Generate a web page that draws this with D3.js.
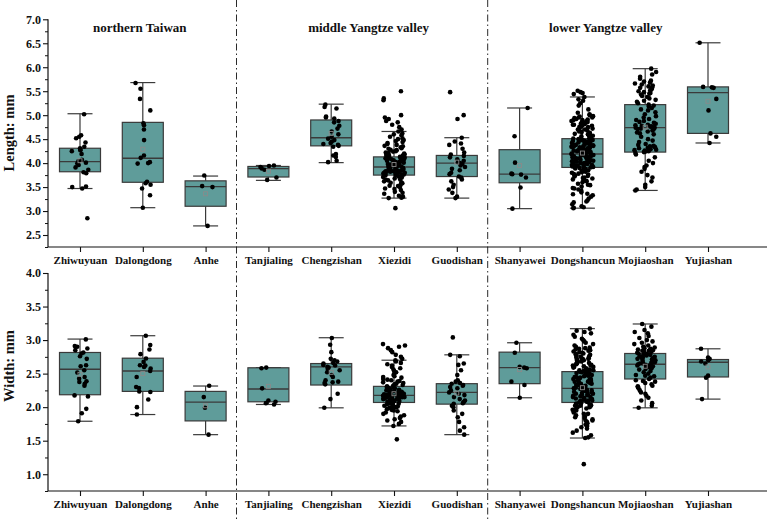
<!DOCTYPE html>
<html><head><meta charset="utf-8">
<script src="https://cdn.jsdelivr.net/npm/d3@7"></script>
<style>html,body{margin:0;padding:0;background:#fff;}svg{display:block;}</style>
</head><body>
<svg id="chart" width="767" height="519"></svg>
<script>
// ---------------- DATA ----------------
const categories = ["Zhiwuyuan","Dalongdong","Anhe","Tanjialing","Chengzishan","Xiezidi","Guodishan","Shanyawei","Dongshancun","Mojiaoshan","Yujiashan"];
const groupNames = ["northern Taiwan","middle Yangtze valley","lower Yangtze valley"];
const groupFirst = [0,3,7];
const groupLast  = [2,6,10];

// Length box statistics
const lenLow  = [3.47,3.07,2.69,3.64,4.01,3.27,3.27,3.05,3.06,3.43,4.42];
const lenQ1   = [3.82,3.60,3.10,3.71,4.36,3.75,3.72,3.59,3.91,4.23,4.62];
const lenMed  = [4.03,4.10,3.51,3.885,4.53,3.92,4.00,3.77,4.19,4.74,5.47];
const lenQ3   = [4.31,4.85,3.63,3.93,4.90,4.13,4.16,4.28,4.51,5.22,5.59];
const lenHigh = [5.03,5.68,3.73,3.95,5.23,4.66,4.53,5.15,5.38,5.97,6.51];
const lenMean = [4.05,4.29,3.36,3.83,4.62,3.97,4.02,3.95,4.21,4.75,5.29];

// Width box statistics
const widLow  = [1.79,1.89,1.59,2.04,1.99,1.72,1.59,2.14,1.54,1.99,2.12];
const widQ1   = [2.185,2.235,1.795,2.08,2.33,2.07,2.045,2.35,2.07,2.42,2.45];
const widMed  = [2.565,2.54,2.075,2.27,2.60,2.175,2.22,2.59,2.28,2.64,2.67];
const widQ3   = [2.815,2.73,2.235,2.587,2.65,2.31,2.35,2.82,2.53,2.80,2.71];
const widHigh = [3.015,3.065,2.315,2.59,3.035,2.70,2.78,2.96,3.17,3.24,2.87];
const widMean = [2.49,2.50,2.02,2.31,2.52,2.20,2.21,2.56,2.29,2.61,2.60];

// Length individual measurements (per category)
const lenPoints = [
  [5.02,4.58,4.55,4.52,4.43,4.34,4.31,4.28,4.27,4.25,4.19,4.07,4.04,4.01,3.99,3.96,3.91,3.86,3.81,3.79,3.51,3.50,3.47,2.85],
  [5.67,5.55,5.34,5.10,4.83,4.79,4.70,4.48,4.16,4.11,4.02,4.00,3.99,3.61,3.58,3.55,3.47,3.33,3.07],
  [3.74,3.52,3.50,2.69],
  [3.95,3.94,3.92,3.89,3.86,3.70,3.65],
  [5.22,5.17,5.14,4.97,4.95,4.93,4.88,4.85,4.78,4.72,4.66,4.60,4.55,4.51,4.48,4.45,4.42,4.40,4.38,4.36,4.34,4.19,4.16,4.13,4.05,4.02],
  [5.50,5.35,5.31,5.00,4.95,4.92,4.88,4.85,4.80,4.75,4.70,
   4.66,4.62,4.60,4.58,4.55,4.52,4.50,4.48,4.46,4.44,4.42,4.40,4.38,4.36,4.35,4.33,4.31,4.30,4.28,4.27,4.25,4.24,4.22,4.21,4.20,4.18,4.17,4.16,4.15,4.14,
   4.13,4.12,4.11,4.10,4.09,4.08,4.07,4.06,4.05,4.04,4.03,4.02,4.01,4.00,3.99,3.98,3.97,3.96,3.95,3.94,3.93,3.92,4.10,4.05,4.00,3.98,3.95,3.93,
   3.91,3.90,3.89,3.88,3.87,3.86,3.85,3.84,3.83,3.82,3.81,3.80,3.79,3.78,3.77,3.76,3.75,3.90,3.88,3.85,3.83,3.80,3.78,3.76,3.86,3.82,
   3.74,3.72,3.70,3.68,3.66,3.64,3.62,3.60,3.58,3.55,3.52,3.50,3.47,3.44,3.40,3.36,3.32,3.28,3.27,3.71,3.65,3.59,3.53,3.46,3.38,3.30,3.06],
  [5.48,5.00,4.92,4.53,4.45,4.41,4.38,4.30,4.22,4.18,4.15,4.12,4.08,4.05,4.02,4.00,3.98,3.95,3.92,3.88,3.85,3.80,3.77,3.72,3.70,3.66,3.62,3.55,3.50,3.45,3.38,3.30,3.27],
  [5.15,4.56,4.01,3.78,3.77,3.76,3.70,3.49,3.05],
  [5.51,5.48,5.46,5.44,
   5.38,5.33,5.30,5.25,5.20,5.12,5.05,5.02,5.00,4.98,4.97,4.95,4.94,4.92,4.91,4.90,4.88,4.87,4.86,4.85,4.84,4.82,4.81,4.80,4.78,4.77,4.76,4.75,4.73,4.72,4.70,4.68,4.66,4.65,4.63,4.61,4.60,4.58,4.56,4.55,4.53,4.52,4.95,4.90,4.85,4.80,4.70,4.62,4.57,
   4.51,4.50,4.49,4.48,4.47,4.46,4.45,4.44,4.43,4.42,4.41,4.40,4.39,4.38,4.37,4.36,4.35,4.34,4.33,4.32,4.31,4.30,4.29,4.28,4.27,4.26,4.25,4.24,4.23,4.22,4.21,4.20,4.19,4.48,4.45,4.42,4.38,4.35,4.31,4.28,4.25,4.22,4.20,4.46,4.40,4.33,4.27,4.23,
   4.18,4.17,4.16,4.15,4.14,4.13,4.12,4.11,4.10,4.09,4.08,4.07,4.06,4.05,4.04,4.03,4.02,4.01,4.00,3.99,3.98,3.97,3.96,3.95,3.94,3.93,3.92,3.91,4.16,4.12,4.08,4.04,4.00,3.96,3.93,4.14,4.06,3.98,4.10,4.02,3.94,
   3.90,3.88,3.86,3.84,3.82,3.80,3.78,3.76,3.74,3.72,3.70,3.68,3.66,3.64,3.62,3.60,3.57,3.54,3.51,3.48,3.45,3.42,3.39,3.36,3.33,3.30,3.26,3.22,3.18,3.14,3.10,3.07,3.06,3.89,3.85,3.81,3.77,3.73,3.69,3.63,3.55,3.47,3.35,3.20,3.08],
  [5.97,5.90,5.85,5.80,5.76,5.72,5.70,5.68,5.66,5.64,5.62,5.60,5.58,5.57,5.55,5.53,5.52,5.50,5.48,5.46,5.45,5.43,5.40,5.38,5.35,5.32,5.30,5.28,5.25,5.22,5.20,5.18,5.15,5.12,5.10,5.06,5.02,4.98,4.95,4.92,4.90,4.88,4.86,4.84,4.82,4.80,4.79,4.78,4.77,4.76,4.75,4.74,4.73,4.72,4.71,4.70,4.68,4.66,4.64,4.62,4.60,4.55,4.50,4.47,4.44,4.40,4.38,4.36,4.35,4.34,4.33,4.32,4.31,4.30,4.29,4.28,4.27,4.26,4.25,4.24,4.23,4.21,4.18,4.12,4.05,4.00,3.95,3.92,3.88,3.82,3.75,3.70,3.62,3.55,3.50,3.45,3.43],
  [6.51,5.59,5.58,5.57,5.34,5.10,4.62,4.55,4.42]
];

// Width individual measurements (per category)
const widPoints = [
  [3.01,2.91,2.90,2.875,2.85,2.815,2.80,2.76,2.72,2.625,2.61,2.55,2.515,2.45,2.425,2.385,2.375,2.35,2.32,2.175,2.16,1.975,1.91,1.79],
  [3.065,2.925,2.86,2.79,2.725,2.675,2.625,2.62,2.60,2.575,2.54,2.45,2.30,2.285,2.235,2.225,2.115,2.00,1.89],
  [2.32,2.15,1.99,1.59],
  [2.59,2.58,2.28,2.10,2.08,2.06,2.04],
  [3.03,2.93,2.82,2.72,2.70,2.68,2.66,2.65,2.63,2.62,2.60,2.59,2.57,2.55,2.52,2.48,2.45,2.40,2.38,2.37,2.36,2.34,2.20,2.12,1.99],
  [2.94,2.92,2.90,2.88,2.85,2.82,2.78,2.75,2.72,2.70,2.68,2.66,2.64,2.62,2.60,2.58,2.56,2.54,2.52,2.50,2.48,2.46,2.45,2.44,2.42,2.41,2.40,2.39,2.38,2.37,2.36,2.35,2.34,2.33,2.32,2.31,2.30,2.30,2.29,2.28,2.28,2.27,2.26,2.26,2.25,2.24,2.24,2.23,2.22,2.22,2.21,2.20,2.20,2.19,2.19,2.18,2.18,2.17,2.17,2.16,2.16,2.15,2.15,2.14,2.14,2.13,2.13,2.12,2.12,2.11,2.11,2.10,2.10,2.09,2.09,2.08,2.08,2.07,2.07,2.06,2.05,2.04,2.03,2.02,2.01,2.00,1.99,1.98,1.97,1.96,1.95,1.94,1.92,1.90,1.88,1.86,1.84,1.82,1.80,1.78,1.75,1.72,1.52,2.25,2.21,2.18,2.15,2.12,2.05,2.00],
  [3.04,2.78,2.76,2.65,2.63,2.55,2.48,2.40,2.38,2.36,2.35,2.33,2.32,2.30,2.28,2.25,2.22,2.20,2.18,2.15,2.12,2.10,2.08,2.06,2.05,2.02,2.00,1.95,1.90,1.85,1.78,1.70,1.65,1.59],
  [2.96,2.81,2.60,2.59,2.58,2.38,2.33,2.14],
  [3.17,3.14,3.12,3.10,3.08,3.05,3.02,3.00,2.98,2.96,2.94,2.92,2.90,2.89,2.88,2.87,2.86,2.85,2.84,2.83,2.82,2.81,2.80,2.79,2.78,2.77,2.76,2.75,2.74,2.73,2.72,2.71,2.70,2.69,2.68,2.67,2.66,2.65,2.64,2.63,2.62,2.61,2.60,2.59,2.58,2.57,2.56,2.55,2.54,2.53,2.52,2.51,2.50,2.49,2.48,2.47,2.46,2.45,2.44,2.43,2.42,2.41,2.40,2.39,2.38,2.37,2.36,2.35,2.34,2.33,2.32,2.31,2.30,2.29,2.28,2.27,2.26,2.25,2.24,2.23,2.22,2.21,2.20,2.19,2.18,2.17,2.16,2.15,2.14,2.13,2.12,2.11,2.10,2.09,2.08,2.07,2.06,2.05,2.04,2.03,2.02,2.01,2.00,1.98,1.96,1.94,1.92,1.90,1.88,1.86,1.84,1.82,1.80,1.78,1.76,1.74,1.72,1.70,1.68,1.65,1.62,1.58,1.55,1.54,1.15,2.85,2.78,2.72,2.66,2.60,2.52,2.45,2.40,2.35,2.30,2.25,2.20,2.15,2.10,2.05,2.00,1.95,1.90,1.85,1.80,2.62,2.48,2.38,2.28,2.18,2.08,1.98,2.70,2.55,2.42,2.33,2.22,2.12,2.02],
  [3.24,3.20,3.15,3.12,3.10,3.06,3.03,3.00,2.98,2.96,2.94,2.92,2.90,2.89,2.88,2.87,2.86,2.85,2.84,2.83,2.82,2.81,2.80,2.79,2.78,2.77,2.76,2.75,2.74,2.73,2.72,2.71,2.70,2.69,2.68,2.67,2.66,2.65,2.64,2.63,2.62,2.61,2.60,2.58,2.56,2.54,2.52,2.50,2.48,2.46,2.44,2.42,2.40,2.38,2.36,2.34,2.32,2.30,2.28,2.25,2.22,2.20,2.17,2.14,2.10,2.06,2.02,1.99,2.84,2.78,2.72,2.66,2.62,2.57,2.47,2.39,2.31,2.85,2.75,2.65],
  [2.87,2.74,2.72,2.70,2.68,2.65,2.47,2.44,2.12]
];

const lenTicks = [2.5,3.0,3.5,4.0,4.5,5.0,5.5,6.0,6.5,7.0];
const lenMinor = [2.25,2.75,3.25,3.75,4.25,4.75,5.25,5.75,6.25,6.75];
const widTicks = [1.0,1.5,2.0,2.5,3.0,3.5,4.0];
const widMinor = [0.75,1.25,1.75,2.25,2.75,3.25,3.75];

// ---------------- DRAWING ----------------
const FONT = "'Times New Roman','Liberation Serif',serif";
const BOX_FILL = "#5f9c9a";
const STROKE = "#3a3a3a";
const svg = d3.select("#chart");
const W = 767, H = 519;

const x = d3.scaleLinear().domain([0, categories.length - 1]).range([80, 708]);
const axisLeftX = 48;

const panels = [
  {y: d3.scaleLinear().domain([2.25, 7.0]).range([247, 19.3]), ticks: lenTicks, minor: lenMinor,
   low: lenLow, q1: lenQ1, med: lenMed, q3: lenQ3, high: lenHigh, mean: lenMean, pts: lenPoints,
   title: "Length: mm", titleY: 133},
  {y: d3.scaleLinear().domain([0.75, 4.0]).range([491, 273]), ticks: widTicks, minor: widMinor,
   low: widLow, q1: widQ1, med: widMed, q3: widQ3, high: widHigh, mean: widMean, pts: widPoints,
   title: "Width: mm", titleY: 366}
];

// group separators (dash-dot)
[2.5, 6.5].forEach(v => {
  svg.append("line").attr("x1", x(v) - 0.5).attr("x2", x(v) - 0.5).attr("y1", 0).attr("y2", H)
    .attr("stroke", "#2a2a2a").attr("stroke-width", 1).attr("stroke-dasharray", "7,3,1.5,3");
});

// group titles
groupNames.forEach((g, i) => {
  const offs = [-3, 6, -8][i];
  svg.append("text").attr("x", x((groupFirst[i] + groupLast[i]) / 2) + offs).attr("y", 32)
    .attr("text-anchor", "middle").attr("font-family", FONT).attr("font-weight", "bold")
    .attr("font-size", 13).attr("fill", "#111").text(g);
});

function jitter(i, k) {
  const s = Math.sin((i + 1) * 12.9898 + (k + 1) * 78.233) * 43758.5453;
  return (s - Math.floor(s)) - 0.5;
}

panels.forEach((p, pi) => {
  const y = p.y;
  const g = svg.append("g");
  const x0 = y.range()[0];

  // y axis
  const ya = g.append("g").attr("transform", `translate(${axisLeftX},0)`)
    .call(d3.axisLeft(y).tickValues(p.ticks).tickFormat(d3.format(".1f")).tickSize(5).tickSizeOuter(0).tickPadding(2));
  ya.select(".domain").attr("stroke", "#111").attr("stroke-width", 1.2)
    .attr("d", `M0,${y(y.domain()[0])}V${y(y.domain()[1])}`);
  ya.selectAll(".tick line").attr("stroke", "#111").attr("stroke-width", 1.1);
  ya.selectAll("text").attr("font-family", FONT).attr("font-weight", "bold").attr("font-size", 12).attr("fill", "#111");
  const ym = g.append("g").attr("transform", `translate(${axisLeftX},0)`)
    .call(d3.axisLeft(y).tickValues(p.minor).tickFormat("").tickSize(3).tickSizeOuter(0));
  ym.select(".domain").remove();
  ym.selectAll(".tick line").attr("stroke", "#111").attr("stroke-width", 1);

  // x axis
  const xa = g.append("g").attr("transform", `translate(0,${x0})`)
    .call(d3.axisBottom(x).tickValues(d3.range(categories.length)).tickFormat(i => categories[i]).tickSize(5).tickSizeOuter(0).tickPadding(4));
  xa.select(".domain").attr("stroke", "#111").attr("stroke-width", 1.2).attr("d", `M${axisLeftX},0H${W}`);
  xa.selectAll(".tick line").attr("stroke", "#111").attr("stroke-width", 1.1);
  xa.selectAll("text").attr("font-family", FONT).attr("font-weight", "bold").attr("font-size", 11).attr("fill", "#111");

  // y title
  g.append("text").attr("transform", `translate(14,${p.titleY}) rotate(-90)`)
    .attr("text-anchor", "middle").attr("font-family", FONT).attr("font-weight", "bold")
    .attr("font-size", 14.5).attr("fill", "#111").text(p.title);

  // boxes
  const bw = 41, cw = 25;
  categories.forEach((c, i) => {
    const cx = x(i);
    const bg = g.append("g");
    const ws = (x1, x2, y1, y2) => bg.append("line").attr("x1", x1).attr("x2", x2).attr("y1", y1).attr("y2", y2)
      .attr("stroke", STROKE).attr("stroke-width", 1.2);
    // whiskers and caps
    ws(cx, cx, y(p.high[i]), y(p.q3[i]));
    ws(cx, cx, y(p.q1[i]), y(p.low[i]));
    ws(cx - cw / 2, cx + cw / 2, y(p.high[i]), y(p.high[i]));
    ws(cx - cw / 2, cx + cw / 2, y(p.low[i]), y(p.low[i]));
    // box
    bg.append("rect").attr("x", cx - bw / 2).attr("width", bw)
      .attr("y", y(p.q3[i])).attr("height", Math.max(1, y(p.q1[i]) - y(p.q3[i])))
      .attr("fill", BOX_FILL).attr("stroke", STROKE).attr("stroke-width", 1.2);
    ws(cx - bw / 2, cx + bw / 2, y(p.med[i]), y(p.med[i])).attr("stroke-width", 1.4);
    // points
    const pts = p.pts[i];
    const spread = pts.length > 50 ? 22 : 17;
    bg.selectAll("circle.pt").data(pts).join("circle").attr("class", "pt")
      .attr("cx", (d, k) => cx + jitter(k + pi * 500, i) * spread)
      .attr("cy", d => y(d)).attr("r", 2.3).attr("fill", "#000");
    // mean
    bg.append("rect").attr("x", cx - 2).attr("y", y(p.mean[i]) - 2).attr("width", 4).attr("height", 4)
      .attr("fill", "none").attr("stroke", "#8a8a8a").attr("stroke-width", 0.9);
  });
});
</script>
</body></html>
